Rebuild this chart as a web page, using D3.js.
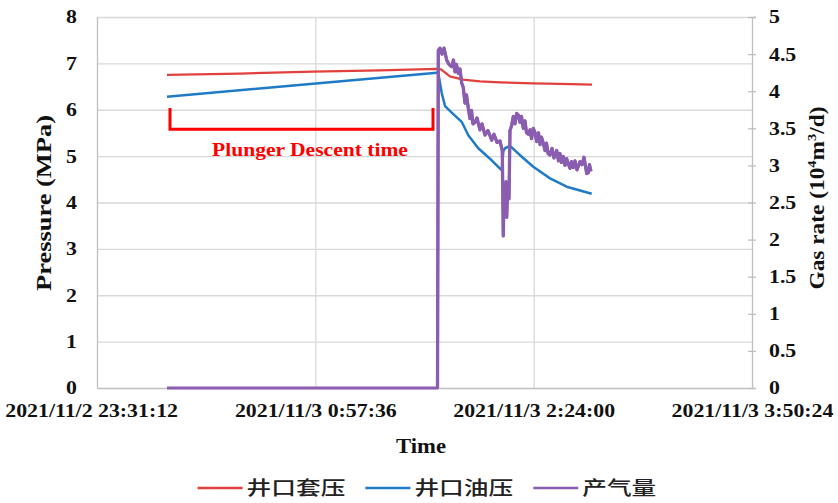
<!DOCTYPE html>
<html><head><meta charset="utf-8">
<script src="https://cdn.jsdelivr.net/npm/d3@7"></script>
<style>body{margin:0;background:#fff} svg{display:block}</style>
</head><body><svg id="c" width="838" height="503"></svg>
<script>
// ---------- DATA ----------
const xTickTimes = ["2021-11-02 23:31:12","2021-11-03 00:57:36","2021-11-03 02:24:00","2021-11-03 03:50:24"];
const pressureTicks = [0,1,2,3,4,5,6,7,8];
const gasTicks = [0,0.5,1,1.5,2,2.5,3,3.5,4,4.5,5];

const casingTimes  = ["23:58:54","00:27:47","00:56:41","01:23:11","01:45:45","01:47:20","01:50:53","01:56:02","02:02:45","02:10:40","02:17:00","02:23:44","02:34:25","02:47:05"];
const casingValues = [6.75,6.78,6.82,6.85,6.88,6.87,6.72,6.65,6.61,6.59,6.58,6.57,6.56,6.54];

const tubingTimes  = ["23:58:54","00:56:41","01:45:45","01:46:16","01:47:37","01:48:55","01:51:34","01:55:31","01:58:08","02:02:05","02:07:23","02:10:41","02:11:21","02:11:59","02:12:39","02:14:38","02:18:36","02:23:51","02:30:28","02:37:04","02:42:20","02:46:58"];
const tubingValues = [6.28,6.56,6.80,6.79,6.36,6.08,5.94,5.74,5.45,5.17,4.91,4.73,4.70,5.10,5.17,5.22,5.02,4.77,4.52,4.34,4.26,4.19];

const gasTimes  = ["23:58:54","01:45:57","01:46:16","01:46:56","01:47:43","01:48:31","01:49:35","01:50:29","01:51:34","01:52:16","01:52:52","01:53:27","01:54:10","01:54:50","01:55:31","01:56:09","01:56:49","01:57:25","01:58:08","01:58:48","01:59:24","01:59:59","02:00:47","02:01:34","02:02:45","02:03:33","02:04:44","02:05:55","02:07:23","02:08:18","02:09:29","02:10:40","02:11:35","02:11:59","02:12:20","02:12:39","02:13:03","02:13:20","02:13:38","02:13:58","02:14:14","02:14:38","02:15:14","02:15:56","02:16:37","02:17:17","02:17:55","02:18:36","02:19:11","02:19:54","02:20:34","02:21:10","02:21:53","02:22:33","02:23:09","02:23:51","02:24:32","02:25:12","02:25:55","02:26:31","02:27:06","02:27:49","02:28:29","02:29:05","02:29:41","02:30:28","02:31:16","02:32:03","02:33:07","02:33:50","02:34:25","02:35:01","02:35:44","02:36:24","02:37:04","02:37:42","02:38:23","02:38:58","02:39:41","02:40:21","02:41:09","02:42:20","02:43:08","02:43:55","02:44:59","02:45:37","02:46:05","02:46:41"];
const gasValues = [0,0,4.55,4.58,4.50,4.58,4.42,4.36,4.33,4.42,4.26,4.36,4.24,4.30,4.11,4.05,3.84,3.95,3.77,3.63,3.74,3.56,3.58,3.64,3.48,3.56,3.41,3.47,3.34,3.42,3.31,3.33,3.20,2.05,2.72,2.48,2.78,2.30,2.62,2.66,2.55,3.47,3.53,3.66,3.56,3.70,3.68,3.58,3.66,3.50,3.60,3.44,3.42,3.48,3.36,3.50,3.44,3.32,3.44,3.28,3.38,3.30,3.20,3.30,3.16,3.14,3.23,3.10,3.20,3.06,3.16,3.04,3.12,3.00,3.09,3.02,2.96,3.05,2.97,3.06,2.94,3.05,3.01,3.11,2.89,2.90,3.01,2.92];

const seriesNames = ["井口套压","井口油压","产气量"];
const seriesColors = ["#e2403c","#1f7bc6","#8b5db0"];

// annotation (data units)
const bracketTimes = ["00:00:05","01:44:10"];
const bracketPressure = [6.04, 5.58];
const noteText = "Plunger Descent time";
const noteTime = "00:55:29";
const notePressure = 5.0;

// ---------- SETUP ----------
const W = 838, H = 503;
const m = {l:97, r:86, t:17, b:115};
const svg = d3.select("#c");
const FONT = "'Liberation Serif','Times New Roman',serif";
const K = 1.18;

const parseFull = d3.timeParse("%Y-%m-%d %H:%M:%S");
const toDate = s => parseFull((+s.slice(0,2) >= 12 ? "2021-11-02 " : "2021-11-03 ") + s);
const fmt = d3.timeFormat("%Y/%-m/%-d %-H:%M:%S");

const xTicks = xTickTimes.map(parseFull);
const x = d3.scaleTime().domain([xTicks[0], xTicks[3]]).range([m.l, W - m.r]);
const yP = d3.scaleLinear().domain([0,8]).range([H - m.b, m.t]);
const yG = d3.scaleLinear().domain([0,5]).range([H - m.b, m.t]);

function stretchAbout(sel, k) {
  sel.each(function() {
    const t = d3.select(this);
    const ax = +t.attr("x") || 0;
    t.attr("transform", `translate(${ax},0) scale(${k},1) translate(${-ax},0)`);
  });
}

// grid
svg.append("g").attr("transform", `translate(${m.l},0)`)
  .call(d3.axisLeft(yP).tickValues(pressureTicks.slice(1)).tickSize(-(W - m.l - m.r)).tickFormat(""))
  .call(g => g.select(".domain").remove())
  .selectAll("line").attr("stroke", "#d9d9d9").attr("stroke-width", 1.3);
svg.append("g").attr("transform", `translate(0,${H - m.b})`)
  .call(d3.axisBottom(x).tickValues(xTicks.slice(1,3)).tickSize(-(H - m.t - m.b)).tickFormat(""))
  .call(g => g.select(".domain").remove())
  .selectAll("line").attr("stroke", "#d9d9d9").attr("stroke-width", 1.3);

// axes
const axisColor = "#bfbfbf";
const gx = svg.append("g").attr("transform", `translate(0,${H - m.b})`)
  .call(d3.axisBottom(x).tickValues(xTicks).tickSize(0).tickPadding(16).tickFormat(fmt));
gx.select(".domain").attr("stroke", axisColor).attr("stroke-width", 1.3);
gx.selectAll("text").attr("font-family", FONT).attr("font-weight", "bold").attr("font-size", 18.5).attr("fill", "#111")
  .attr("dx", (d, i) => i === 0 ? -5 : 0).call(stretchAbout, K);

const gl = svg.append("g").attr("transform", `translate(${m.l},0)`)
  .call(d3.axisLeft(yP).tickValues(pressureTicks).tickSize(0).tickPadding(20).tickFormat(d3.format("d")));
gl.select(".domain").attr("stroke", axisColor).attr("stroke-width", 1.3);
gl.selectAll("text").attr("font-family", FONT).attr("font-weight", "bold").attr("font-size", 18.5).attr("fill", "#111").call(stretchAbout, K);

const gr = svg.append("g").attr("transform", `translate(${W - m.r},0)`)
  .call(d3.axisRight(yG).tickValues(gasTicks).tickSize(4).tickPadding(13).tickFormat(d => String(d)));
gr.select(".domain").attr("stroke", axisColor).attr("stroke-width", 1.3);
gr.selectAll(".tick line").attr("stroke", axisColor).attr("stroke-width", 1.3).attr("x1", -4);
gr.selectAll("text").attr("font-family", FONT).attr("font-weight", "bold").attr("font-size", 18.5).attr("fill", "#111").call(stretchAbout, K);

// axis titles
function title(txt, cx, cy, rot, size, targetLen) {
  const t = svg.append("text").attr("font-family", FONT).attr("font-weight", "bold")
    .attr("font-size", size).attr("fill", "#111").attr("text-anchor", "middle");
  if (typeof txt === "string") t.text(txt);
  else txt(t);
  const len = t.node().getComputedTextLength();
  const k = targetLen / len;
  t.attr("transform", `translate(${cx},${cy}) rotate(${rot}) scale(${k},1)`);
  return t;
}
title("Time", 421, 453, 0, 21, 50);
title("Pressure (MPa)", 51, 203, -90, 21, 176);
title(t => {
  t.append("tspan").text("Gas rate (10");
  t.append("tspan").attr("font-size", 13).attr("dy", -8).text("4");
  t.append("tspan").attr("dy", 8).text("m");
  t.append("tspan").attr("font-size", 13).attr("dy", -8).text("3");
  t.append("tspan").attr("dy", 8).text("/d)");
}, 824, 198, -90, 21, 183);

// series
const mk = (times, vals) => times.map((s, i) => ({t: toDate(s), v: vals[i]}));
const lineP = d3.line().x(d => x(d.t)).y(d => yP(d.v));
const lineG = d3.line().x(d => x(d.t)).y(d => yG(d.v));

svg.append("path").datum(mk(gasTimes, gasValues)).attr("d", lineG)
  .attr("fill", "none").attr("stroke", seriesColors[2]).attr("stroke-width", 2.8).attr("stroke-linejoin", "round");
svg.append("path").datum(mk(casingTimes, casingValues)).attr("d", lineP)
  .attr("fill", "none").attr("stroke", seriesColors[0]).attr("stroke-width", 2.3).attr("stroke-linejoin", "round");
svg.append("path").datum(mk(tubingTimes, tubingValues)).attr("d", lineP)
  .attr("fill", "none").attr("stroke", seriesColors[1]).attr("stroke-width", 2.5).attr("stroke-linejoin", "round");
// gas on top after the opening
svg.append("path").datum(mk(gasTimes, gasValues).slice(1)).attr("d", lineG)
  .attr("fill", "none").attr("stroke", seriesColors[2]).attr("stroke-width", 3.3).attr("stroke-linejoin", "round");

// annotation bracket
const bx0 = x(toDate(bracketTimes[0])), bx1 = x(toDate(bracketTimes[1]));
const by0 = yP(bracketPressure[0]), by1 = yP(bracketPressure[1]);
svg.append("path").attr("d", d3.line()([[bx0, by0],[bx0, by1],[bx1, by1],[bx1, by0]]))
  .attr("fill", "none").attr("stroke", "#ff0000").attr("stroke-width", 3);
const nt = svg.append("text").attr("font-family", FONT).attr("font-weight", "bold").attr("font-size", 18)
  .attr("fill", "#ff0000").attr("text-anchor", "middle")
  .attr("x", x(toDate(noteTime))).attr("y", yP(notePressure)).text(noteText);
stretchAbout(nt, 196 / nt.node().getComputedTextLength());

// legend
const lg = svg.append("g");
let cur = 0;
seriesNames.forEach((n, i) => {
  const g = lg.append("g").attr("transform", `translate(${cur},0)`);
  g.append("line").attr("x1", 0).attr("x2", 45).attr("y1", 0).attr("y2", 0)
    .attr("stroke", seriesColors[i]).attr("stroke-width", 2.5);
  const t = g.append("text").attr("x", 49).attr("y", 7).attr("font-family", "'Noto Sans CJK SC',sans-serif")
    .attr("font-weight", 500).attr("font-size", 19).attr("fill", "#222").text(n);
  const len = t.node().getComputedTextLength();
  const k = 1.3;
  stretchAbout(t, k);
  cur += 49 + len * k + 20;
});
const total = cur - 20;
lg.attr("transform", `translate(${427 - total / 2},488)`);
</script></body></html>
